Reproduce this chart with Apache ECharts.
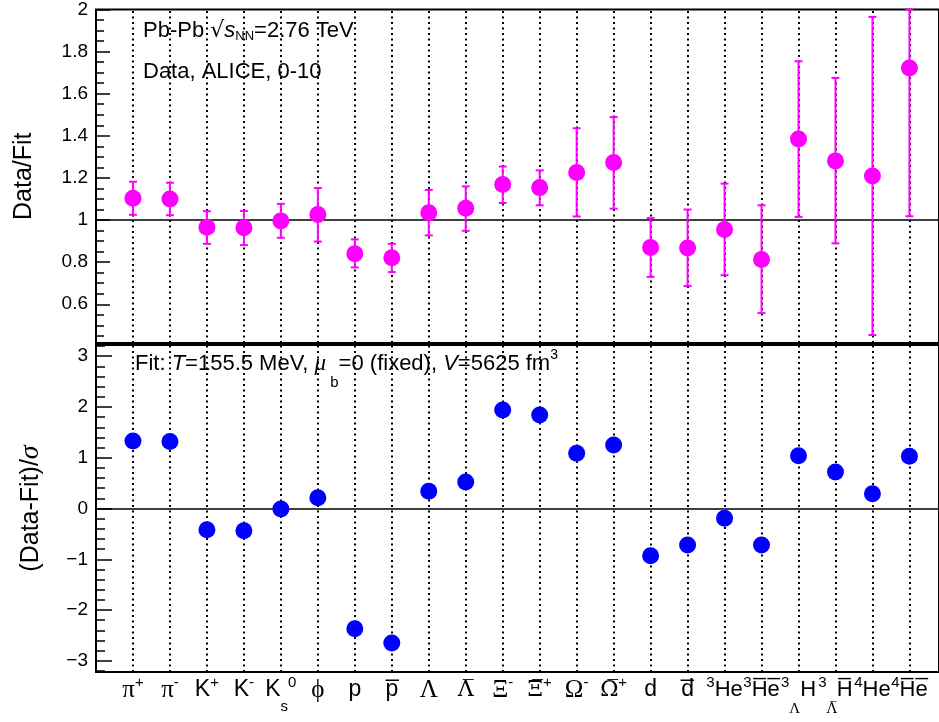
<!DOCTYPE html>
<html>
<head>
<meta charset="utf-8">
<script src="https://cdn.jsdelivr.net/npm/echarts@6/dist/echarts.min.js"></script>
<style>
    html, body { margin: 0; padding: 0; background: #fff; }
    #chart { width: 939px; height: 722px; }
</style>
</head>
<body>
<div id="chart"></div>
<script>
// 粒子种类 (rich text labels for the x axis)
const OL = '\u0305';
const species = [
    '{g|π}{sup|+}', '{g|π}{sup|-}', '{n|K}{sup|+}', '{n|K}{sup|-}', '{n|K}{sub|s}{sup|0}',
    '{g|ϕ}', '{n|p}', '{n|p' + OL + '}', '{g|Λ}', '{gb|Λ' + OL + '}',
    '{g|Ξ}{sup|-}', '{gb|Ξ' + OL + '}{sup|+}', '{g|Ω}{sup|-}', '{gb|Ω' + OL + '}{sup|+}',
    '{n|d}', '{n|d' + OL + '}', '{sup|3}{nh|He}', '{sup|3}{nh|H' + OL + 'e' + OL + '}',
    '{sup|3}{subg|Λ}{nh|H}', '{sup|3}{subgb|Λ' + OL + '}{nh|H' + OL + '}',
    '{sup|4}{nh|He}', '{sup|4}{nh|H' + OL + 'e' + OL + '}'
];
const position = [1, 2, 3, 4, 5, 6, 7, 8, 9, 10, 11, 12, 13, 14, 15, 16, 17, 18, 19, 20, 21, 22];

// Data/Fit, with the lower and upper ends of the error bars
const ratio = [1.103, 1.100, 0.966, 0.963, 0.996, 1.026, 0.840, 0.821, 1.035, 1.056, 1.169,
    1.154, 1.226, 1.273, 0.870, 0.867, 0.955, 0.813, 1.385, 1.281, 1.209, 1.722];
const ratioLow = [1.025, 1.023, 0.887, 0.881, 0.916, 0.898, 0.775, 0.753, 0.927, 0.949, 1.081,
    1.070, 1.017, 1.054, 0.730, 0.687, 0.738, 0.558, 1.015, 0.889, 0.454, 1.018];
const ratioHigh = [1.182, 1.177, 1.042, 1.043, 1.077, 1.152, 0.908, 0.887, 1.143, 1.160, 1.254,
    1.236, 1.436, 1.489, 1.009, 1.050, 1.173, 1.070, 1.754, 1.675, 1.965, 2.0];

// (Data-Fit)/sigma
const deviation = [1.33, 1.32, -0.42, -0.44, -0.01, 0.21, -2.37, -2.65, 0.34, 0.52, 1.94,
    1.84, 1.09, 1.25, -0.93, -0.72, -0.19, -0.72, 1.04, 0.72, 0.29, 1.03];

// 刻度
const ratioTicks = [0.6, 0.8, 1, 1.2, 1.4, 1.6, 1.8, 2];
const devTicks = [-3, -2, -1, 0, 1, 2, 3];
const ratioMinor = [];
for (let v = 45; v <= 195; v += 5) ratioMinor.push(v / 100);
const devMinor = [];
for (let v = -32; v <= 32; v += 2) devMinor.push(v / 10);

const SANS = 'Liberation Sans';
const SERIF = 'Liberation Serif';

// every token is top aligned, its "height" sets where the glyphs sit
const labelRich = {
    n: { fontFamily: SANS, fontSize: 23, color: '#000', height: 24, verticalAlign: 'top' },
    nh: { fontFamily: SANS, fontSize: 22, color: '#000', height: 24, verticalAlign: 'top' },
    g: { fontFamily: SERIF, fontSize: 25, color: '#000', height: 24, verticalAlign: 'top' },
    gb: { fontFamily: 'DejaVu Serif', fontSize: 22, color: '#000', height: 24, verticalAlign: 'top' },
    sup: { fontFamily: SANS, fontSize: 15, color: '#000', height: 9, verticalAlign: 'top' },
    sub: { fontFamily: SANS, fontSize: 15, color: '#000', height: 58, verticalAlign: 'top' },
    subg: { fontFamily: SERIF, fontSize: 15, color: '#000', height: 62, verticalAlign: 'top' },
    subgb: { fontFamily: 'DejaVu Serif', fontSize: 14, color: '#000', height: 62, verticalAlign: 'top' }
};

const textRich = {
    z: { fontFamily: SANS, fontSize: 22, color: '#000', height: 24, verticalAlign: 'top' },
    n: { fontFamily: SANS, fontSize: 22, color: '#000', height: 24, verticalAlign: 'top' },
    it: { fontFamily: SANS, fontStyle: 'italic', fontSize: 22, color: '#000', height: 24, verticalAlign: 'top' },
    itg: { fontFamily: SERIF, fontStyle: 'italic', fontSize: 23, color: '#000', height: 24, verticalAlign: 'top' },
    sq: { fontFamily: 'DejaVu Sans', fontSize: 22, color: '#000', height: 24, verticalAlign: 'top' },
    nn: { fontFamily: SANS, fontSize: 13, color: '#000', height: 34, verticalAlign: 'top' },
    sub: { fontFamily: SANS, fontSize: 15, color: '#000', height: 62, verticalAlign: 'top' },
    sup: { fontFamily: SANS, fontSize: 14, color: '#000', height: 6, verticalAlign: 'top' }
};

// 误差棒
function errorBar(color) {
    return function (params, api) {
        const x = api.value(0);
        const lo = api.coord([x, api.value(1)]);
        const hi = api.coord([x, api.value(2)]);
        const cap = 4;
        const style = { stroke: color, lineWidth: 2 };
        return {
            type: 'group',
            children: [
                { type: 'line', shape: { x1: lo[0], y1: lo[1], x2: hi[0], y2: hi[1] }, style: style },
                { type: 'line', shape: { x1: lo[0] - cap, y1: lo[1], x2: lo[0] + cap, y2: lo[1] }, style: style },
                { type: 'line', shape: { x1: hi[0] - cap, y1: hi[1], x2: hi[0] + cap, y2: hi[1] }, style: style }
            ]
        };
    };
}

// dotted guide at every species + the reference line
function guideLines(refValue) {
    const dotted = { color: '#000', width: 2, type: [2, 3.5] };
    const data = position.map(x => ({ xAxis: x, lineStyle: dotted }));
    data.push({ yAxis: refValue, lineStyle: { color: '#000', width: 1.5, type: 'solid' } });
    return {
        silent: true, z: 1,
        symbol: ['none', 'none'],
        label: { show: false },
        animation: false,
        data: data
    };
}

function majorAxis(grid, min, max, ticks, len, fmt, name, nameGap) {
    return {
        type: 'value', gridIndex: grid, min: min, max: max, position: 'left',
        axisLine: { show: false },
        splitLine: { show: false },
        axisTick: { show: true, inside: true, length: len, customValues: ticks, lineStyle: { color: '#000', width: 1.5 } },
        axisLabel: {
            customValues: ticks, margin: 8, formatter: fmt,
            fontFamily: SANS, fontSize: 19, color: '#000'
        },
        name: name, nameLocation: 'middle', nameGap: nameGap,
        nameTextStyle: {
            fontFamily: SANS, fontSize: 25, color: '#000',
            rich: { s: { fontFamily: SERIF, fontStyle: 'italic', fontSize: 28, color: '#000' } }
        }
    };
}

function minorAxis(grid, min, max, ticks, len) {
    return {
        type: 'value', gridIndex: grid, min: min, max: max, position: 'left',
        axisLine: { show: false },
        splitLine: { show: false },
        axisTick: { show: true, inside: true, length: len, customValues: ticks, lineStyle: { color: '#000', width: 1.5 } },
        axisLabel: { show: false }
    };
}

// a zero width token leads every note, so the first visible word keeps its place
function note(id, text, x, y) {
    return {
        type: 'text', id: id, x: x, y: y,
        style: { text: '{z|\u200b}' + text, align: 'left', verticalAlign: 'top', rich: textRich }
    };
}

const chart = echarts.init(document.getElementById('chart'));

chart.setOption({
    animation: false,
    backgroundColor: '#fff',
    grid: [
        { left: 96, right: 0, top: 8, height: 335, show: true, borderColor: '#000', borderWidth: 2 },
        { left: 96, right: 0, top: 345, height: 327, show: true, borderColor: '#000', borderWidth: 2 }
    ],
    xAxis: [0, 1].map(g => ({
        type: 'value', gridIndex: g, min: 0, max: 22.8,
        axisLine: { show: false }, axisTick: { show: false }, splitLine: { show: false },
        axisLabel: g === 0 ? { show: false } : {
            customValues: position, margin: 6, interval: 0,
            formatter: v => species[Math.round(v) - 1],
            rich: labelRich
        }
    })),
    yAxis: [
        majorAxis(0, 0.416, 2, ratioTicks, 14, v => String(Math.round(v * 10) / 10), 'Data/Fit', 59),
        minorAxis(0, 0.416, 2, ratioMinor, 8),
        majorAxis(1, -3.22, 3.22, devTicks, 16, v => String(Math.round(v)).replace('-', '\u2212'), '(Data-Fit)/{s|σ}', 51),
        minorAxis(1, -3.22, 3.22, devMinor, 9)
    ],
    graphic: [
        note('energy', '{n|Pb-Pb }{sq|√}{it|s}{nn|NN}{n|=2.76 TeV}', 143, 19),
        note('source', '{n|Data, ALICE, 0-10}', 143, 60),
        note('fit', '{n|Fit: }{it|T}{n|=155.5 MeV, }{itg|μ}{sub| b}{n|=0 (fixed), }{it|V}{n|=5625 fm}{sup|3}', 135, 352)
    ],
    series: [
        { type: 'line', xAxisIndex: 0, yAxisIndex: 0, data: [], z: 1, markLine: guideLines(1) },
        { type: 'line', xAxisIndex: 1, yAxisIndex: 2, data: [], z: 1, markLine: guideLines(0) },
        {
            type: 'custom', xAxisIndex: 0, yAxisIndex: 0, z: 2,
            renderItem: errorBar('#ff00ff'),
            encode: { x: 0, y: [1, 2] },
            data: position.map((x, i) => [x, ratioLow[i], ratioHigh[i]])
        },
        {
            type: 'scatter', xAxisIndex: 0, yAxisIndex: 0, z: 3,
            symbol: 'circle', symbolSize: 17,
            itemStyle: { color: '#ff00ff', opacity: 1 },
            data: position.map((x, i) => [x, ratio[i]])
        },
        {
            type: 'scatter', xAxisIndex: 1, yAxisIndex: 2, z: 3,
            symbol: 'circle', symbolSize: 17,
            itemStyle: { color: '#0000ff', opacity: 1 },
            data: position.map((x, i) => [x, deviation[i]])
        }
    ]
});
</script>
</body>
</html>
